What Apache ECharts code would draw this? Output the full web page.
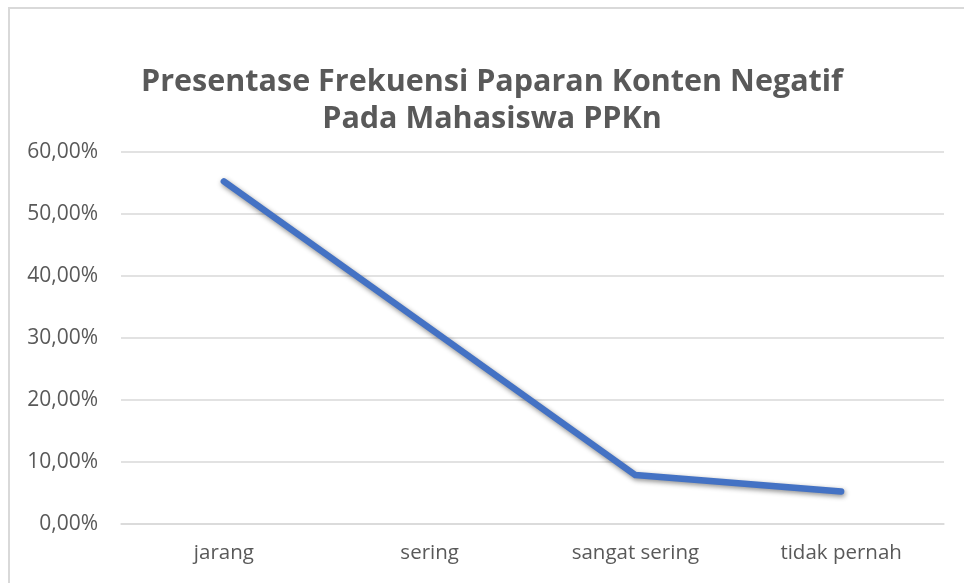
<!DOCTYPE html>
<html>
<head>
<meta charset="utf-8">
<script src="https://cdn.jsdelivr.net/npm/echarts@6/dist/echarts.min.js"></script>
<style>
html,body{margin:0;padding:0;background:#fff;}
#chart{width:964px;height:583px;}
</style>
</head>
<body>
<div id="chart"></div>
<script>
var titleLines = ['Presentase Frekuensi Paparan Konten Negatif', 'Pada Mahasiswa PPKn'];
var categories = ['jarang', 'sering', 'sangat sering', 'tidak pernah'];
var values = [55.26, 31.58, 7.89, 5.26];
var yTicks = {min: 0, max: 60, interval: 10};

var chart = echarts.init(document.getElementById('chart'), null, {renderer: 'canvas'});
var font = '"Open Sans", "Noto Sans", sans-serif';
chart.setOption({
  backgroundColor: '#ffffff',
  animation: false,
  graphic: [
    {type: 'rect', shape: {x: 9, y: 8, width: 1200, height: 1200}, style: {fill: 'none', stroke: '#d9d9d9', lineWidth: 2}, silent: true},
    {type: 'text', x: 492, y: 100.5, style: {text: titleLines.join('\n'), font: 'bold 30.5px ' + font, fill: '#595959', textAlign: 'center', textVerticalAlign: 'middle', lineHeight: 37}}
  ],
  grid: {left: 121, right: 20, top: 152, bottom: 59},
  xAxis: {
    type: 'category',
    data: categories,
    boundaryGap: true,
    axisLine: {show: true, lineStyle: {color: '#d9d9d9', width: 1.5}},
    axisTick: {show: false},
    axisLabel: {color: '#595959', fontFamily: font, fontSize: 20.5, margin: 19}
  },
  yAxis: {
    type: 'value',
    min: yTicks.min, max: yTicks.max, interval: yTicks.interval,
    axisLine: {show: false},
    axisTick: {show: false},
    splitLine: {lineStyle: {color: '#d9d9d9', width: 1.5}},
    axisLabel: {color: '#595959', fontFamily: font, fontSize: 21, margin: 23,
      formatter: function (v) { return v.toFixed(2).replace('.', ',') + '%'; }}
  },
  series: [{
    type: 'line',
    data: values,
    symbol: 'none',
    lineStyle: {color: '#4472C4', width: 6.5, cap: 'round', join: 'round',
      shadowColor: 'rgba(0,0,0,0.45)', shadowBlur: 5, shadowOffsetX: 1, shadowOffsetY: 2}
  }]
});
</script>
</body>
</html>
